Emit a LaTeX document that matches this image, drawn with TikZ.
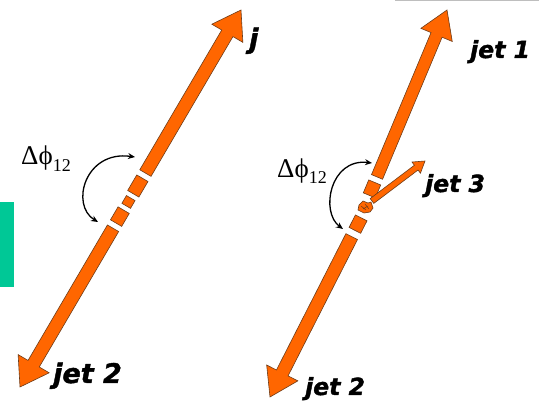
\documentclass[tikz,border=0pt]{standalone}
\usepackage{fontspec}
\newfontfamily\jetfont{DejaVu Sans}[BoldItalicFeatures={FakeBold=1.6}]
\newfontfamily\greekfont{Liberation Serif}
\usetikzlibrary{calc,arrows.meta}
\definecolor{jetorange}{RGB}{255,102,0}
\definecolor{jetedge}{RGB}{110,60,25}
\definecolor{sidegreen}{RGB}{0,200,150}
\definecolor{rulegray}{RGB}{190,190,190}

% block arrow: base, tip, half shaft, half head, head length
\newcommand{\blockarrow}[5]{%
  \filldraw[jetfill] ($(#1)!#3!90:(#2)$) -- ($(#2)!#5!(#1)!#3!-90:(#1)$)
    -- ($(#2)!#5!(#1)!#4!-90:(#1)$) -- (#2) -- ($(#2)!#5!(#1)!#4!90:(#1)$)
    -- ($(#2)!#5!(#1)!#3!90:(#1)$) -- ($(#1)!#3!-90:(#2)$) -- cycle;}
% broken piece of a shaft: from, toward, start, stop, half width
\newcommand{\jetpiece}[5]{%
  \filldraw[jetfill] ($(#1)!#3!(#2)!#5!90:(#2)$) -- ($(#1)!#4!(#2)!#5!90:(#2)$)
    -- ($(#1)!#4!(#2)!#5!-90:(#2)$) -- ($(#1)!#3!(#2)!#5!-90:(#2)$) -- cycle;}
\newcommand{\dphi}[1]{Δϕ\raisebox{#1}{\fontsize{18}{18}\selectfont 12}}

\tikzset{
  jetfill/.style={fill=jetorange, draw=jetedge, line width=0.6pt},
  phiarrow/.style={{Stealth[length=7pt,width=6pt]}-{Stealth[length=7pt,width=6pt]}, line width=1.3pt},
  bigjet/.style={inner sep=0pt, anchor=base west, font=\jetfont\bfseries\itshape\fontsize{27}{28}\selectfont},
  smalljet/.style={inner sep=0pt, anchor=base west, font=\jetfont\bfseries\itshape\fontsize{23.5}{25}\selectfont},
  philabel/.style={inner sep=0pt, anchor=base west, font=\greekfont\fontsize{27}{29}\selectfont}
}

\begin{document}
\begin{tikzpicture}[x=1pt, y=-1pt]
	\useasboundingbox (0,0) rectangle (539,403);
	\fill[sidegreen] (0,202) rectangle (14,287);
	\draw[rulegray, line width=1.5pt] (395,0.5) -- (539,0.5);

	% left picture
	\coordinate (L2) at (20,387);
	\coordinate (L1) at (241,10);
	\coordinate (lowL) at ($(L2)!184pt!(L1)$);
	\coordinate (upL) at ($(L2)!248pt!(L1)$);
	\blockarrow{lowL}{L2}{6.5pt}{18pt}{27pt}
	\blockarrow{upL}{L1}{6.5pt}{18pt}{27pt}
	\jetpiece{L2}{L1}{190pt}{205pt}{6.5pt}
	\jetpiece{L2}{L1}{210pt}{219pt}{5pt}
	\jetpiece{L2}{L1}{224pt}{242pt}{6.5pt}
	\coordinate (cL1) at (98,222);
	\coordinate (cL2) at (135,157);
	\draw[phiarrow] (cL1) .. controls (70,205) and (85,150) .. (cL2);
	\node[philabel] (dphiL) at (21,165) {\dphi{-7pt}};
	\node[bigjet] (labj) at (249,48) {j};
	\node[bigjet] (jet2L) at (53,383) {jet 2};

	% right picture
	\coordinate (R2) at (270,397);
	\coordinate (Q2) at (434,75);
	\coordinate (R1) at (447,10);
	\coordinate (Q1) at (307,344);
	\coordinate (lowR) at ($(R2)!180pt!(Q2)$);
	\coordinate (upR) at ($(R1)!181pt!(Q1)$);
	\blockarrow{lowR}{R2}{6.5pt}{17.5pt}{27pt}
	\blockarrow{upR}{R1}{6pt}{17pt}{27pt}
	\jetpiece{R2}{Q2}{187pt}{201pt}{6.5pt}
	\jetpiece{R1}{Q1}{187pt}{201pt}{6.5pt}
	\coordinate (J3a) at (372,201);
	\coordinate (J3t) at (425,161);
	\blockarrow{J3a}{J3t}{3pt}{7pt}{11pt}
	% small debris at the vertex
	\filldraw[jetfill] (359,205) -- (363,201) -- (368,203) -- (371,202) -- (373,208) -- (370,212) -- (364,213) -- (358,210) -- cycle;
	\draw[jetedge, line width=0.5pt] (361,206) -- (366,210) (365,204) -- (369,209) (363,209) -- (368,206);
	\coordinate (cR1) at (343,229);
	\coordinate (cR2) at (372,163);
	\draw[phiarrow] (cR1) .. controls (320,212) and (330,158) .. (cR2);
	\node[philabel] (dphiR) at (277,178) {\dphi{-6pt}};
	\node[smalljet] (jet1R) at (470,58) {jet 1};
	\node[smalljet] (jet3R) at (425,192) {jet 3};
	\node[smalljet] (jet2R) at (305,395) {jet 2};
\end{tikzpicture}
\end{document}
